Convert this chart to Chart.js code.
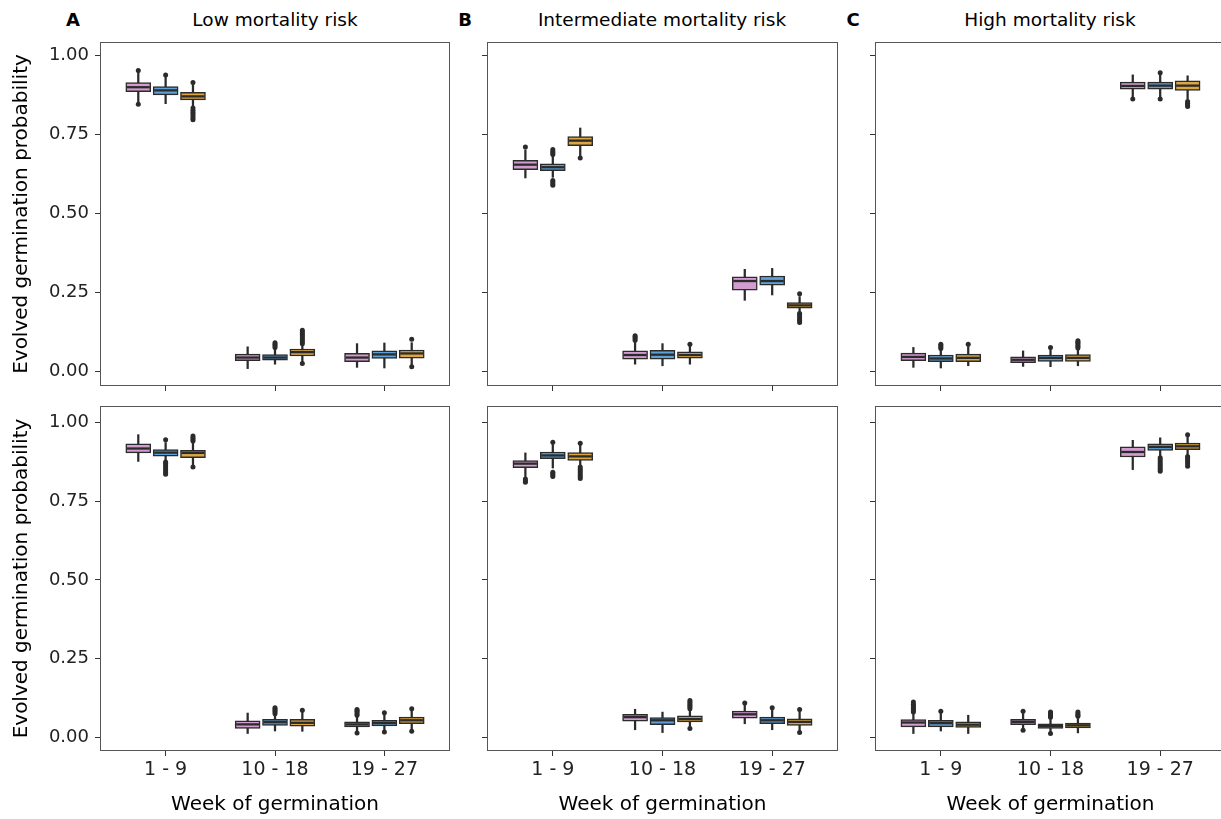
<!DOCTYPE html>
<html><head><meta charset="utf-8">
<script src="https://cdn.jsdelivr.net/npm/chart.js@4.4.1/dist/chart.umd.min.js"></script>
<style>
html,body{margin:0;padding:0;background:#fff;overflow:hidden;width:1221px;height:819px;position:relative}
canvas{position:absolute}
.t{position:absolute;font-family:'DejaVu Sans',sans-serif;color:#000;white-space:nowrap;transform:translate(-50%,-50%);line-height:1}
</style></head><body>
<div class="t" style="left:73px;top:20px;font-weight:bold;font-size:18px">A</div>
<div class="t" style="left:465px;top:20px;font-weight:bold;font-size:18px">B</div>
<div class="t" style="left:853px;top:20px;font-weight:bold;font-size:18px">C</div>
<div class="t" id="tt0" style="left:275px;top:20px;font-size:18.5px"></div>
<div class="t" id="tt1" style="left:662px;top:20px;font-size:18.5px"></div>
<div class="t" id="tt2" style="left:1050px;top:20px;font-size:18.5px"></div>
<canvas id="p1"></canvas><canvas id="p2"></canvas><canvas id="p3"></canvas>
<canvas id="p4"></canvas><canvas id="p5"></canvas><canvas id="p6"></canvas>
<script>
// ---------- data ----------
const categories = ['1 - 9', '10 - 18', '19 - 27'];
const yTickValues = [0, 0.25, 0.5, 0.75, 1];
const panelTitles = ['Low mortality risk', 'Intermediate mortality risk', 'High mortality risk'];
const yTitle = 'Evolved germination probability';
const xTitle = 'Week of germination';

// box statistics per category: [lower whisker, Q1, median, Q3, upper whisker]
// top row
const topLowPink = [[0.853,0.886,0.900,0.915,0.948],[0.010,0.035,0.045,0.056,0.079],[0.014,0.032,0.045,0.058,0.089]];
const topLowBlue = [[0.848,0.876,0.890,0.902,0.932],[0.024,0.037,0.045,0.054,0.072],[0.012,0.042,0.055,0.066,0.091]];
const topLowGold = [[0.840,0.860,0.871,0.884,0.908],[0.030,0.050,0.062,0.072,0.085],[0.022,0.043,0.058,0.069,0.092]];
const topMidPink = [[0.613,0.639,0.655,0.669,0.702],[0.024,0.040,0.053,0.066,0.095],[0.226,0.258,0.287,0.300,0.324]];
const topMidBlue = [[0.615,0.636,0.647,0.658,0.682],[0.019,0.040,0.054,0.068,0.089],[0.243,0.274,0.287,0.303,0.327]];
const topMidGold = [[0.683,0.715,0.731,0.744,0.771],[0.024,0.043,0.053,0.063,0.082],[0.190,0.201,0.210,0.219,0.238]];
const topHighPink = [[0.014,0.035,0.047,0.059,0.077],[0.017,0.029,0.038,0.047,0.066],[0.870,0.894,0.904,0.916,0.939]];
const topHighBlue = [[0.012,0.032,0.042,0.053,0.068],[0.016,0.033,0.044,0.053,0.070],[0.870,0.894,0.905,0.916,0.940]];
const topHighGold = [[0.019,0.032,0.044,0.056,0.080],[0.019,0.033,0.044,0.054,0.070],[0.862,0.890,0.905,0.920,0.936]];
// bottom row
const botLowPink = [[0.876,0.903,0.917,0.932,0.961],[0.012,0.028,0.041,0.052,0.077],[0.020,0.033,0.041,0.049,0.066]];
const botLowBlue = [[0.880,0.893,0.904,0.914,0.936],[0.020,0.038,0.048,0.057,0.071],[0.022,0.036,0.045,0.054,0.073]];
const botLowGold = [[0.865,0.888,0.903,0.911,0.935],[0.019,0.035,0.046,0.057,0.080],[0.024,0.043,0.054,0.064,0.085]];
const botMidPink = [[0.828,0.856,0.869,0.879,0.903],[0.024,0.051,0.064,0.073,0.089],[0.043,0.061,0.073,0.083,0.102]];
const botMidBlue = [[0.855,0.885,0.895,0.906,0.930],[0.015,0.040,0.054,0.063,0.080],[0.024,0.043,0.054,0.064,0.088]];
const botMidGold = [[0.862,0.879,0.892,0.904,0.928],[0.033,0.049,0.058,0.068,0.086],[0.020,0.038,0.049,0.059,0.082]];
const botHighPink = [[0.012,0.033,0.047,0.056,0.076],[0.028,0.040,0.049,0.057,0.076],[0.850,0.890,0.906,0.922,0.943]];
const botHighBlue = [[0.020,0.033,0.045,0.054,0.076],[0.018,0.028,0.036,0.043,0.058],[0.893,0.911,0.922,0.932,0.951]];
const botHighGold = [[0.012,0.031,0.040,0.049,0.070],[0.014,0.030,0.038,0.045,0.060],[0.897,0.913,0.924,0.934,0.955]];

// outliers per category
const topLowPinkOut = [[0.846,0.953],[],[]];
const topLowBlueOut = [[0.939],[0.077,0.082,0.087,0.092],[]];
const topLowGoldOut = [[0.797,0.803,0.809,0.815,0.821,0.827,0.834,0.915],[0.026,0.089,0.095,0.101,0.107,0.113,0.119,0.125,0.131],[0.016,0.103]];
const topMidPinkOut = [[0.711],[0.100,0.105,0.110,0.114],[]];
const topMidBlueOut = [[0.590,0.595,0.600,0.605,0.687,0.692,0.697,0.703],[],[]];
const topMidGoldOut = [[0.676],[0.087],[0.156,0.162,0.168,0.174,0.180,0.184,0.247]];
const topHighPinkOut = [[],[],[0.863]];
const topHighBlueOut = [[0.074,0.078,0.083,0.087],[0.077],[0.863,0.946]];
const topHighGoldOut = [[0.087],[0.075,0.080,0.085,0.090,0.094,0.098],[0.839,0.844,0.849,0.855]];
const botLowPinkOut = [[],[],[0.014,0.070,0.075,0.080,0.084,0.088]];
const botLowBlueOut = [[0.835,0.841,0.847,0.853,0.859,0.865,0.870,0.874,0.945],[0.075,0.080,0.085,0.090,0.094],[0.017,0.078]];
const botLowGoldOut = [[0.858,0.941,0.946,0.951,0.957],[0.086],[0.019,0.091]];
const botMidPinkOut = [[0.810,0.815,0.820],[],[0.109]];
const botMidBlueOut = [[0.828,0.833,0.838,0.842,0.937],[],[0.094]];
const botMidGoldOut = [[0.822,0.828,0.834,0.840,0.846,0.852,0.858,0.934],[0.028,0.091,0.096,0.101,0.106,0.111,0.117],[0.015,0.088]];
const botHighPinkOut = [[0.080,0.085,0.090,0.095,0.100,0.105,0.112],[0.022,0.083],[]];
const botHighBlueOut = [[0.083],[0.012,0.064,0.068,0.072,0.076,0.080],[0.845,0.851,0.857,0.863,0.869,0.875,0.881,0.888]];
const botHighGoldOut = [[],[0.067,0.071,0.075,0.080],[0.861,0.869,0.875,0.881,0.887,0.892,0.961]];

// ---------- styling ----------
const FONT = 'DejaVu Sans';
const groupColors = ['#D39CD0', '#5EA1D8', '#DDA642'];
const dodge = [-0.25, 0, 0.25];
const LINE = '#2b2b2b';

panelTitles.forEach((t, i) => { document.getElementById('tt' + i).textContent = t; });

function groupDatasets(stats, outs, gi) {
  const xs = stats.map((s, ci) => ci + 1 + dodge[gi]);
  return [
    { type: 'bar', data: stats.map((s, ci) => ({ x: xs[ci], y: [s[0], s[4]] })),
      backgroundColor: LINE, borderWidth: 0, barThickness: 1.6, grouped: false, order: 30 + gi },
    { type: 'bar', data: stats.map((s, ci) => ({ x: xs[ci], y: [s[1], s[3]] })),
      backgroundColor: groupColors[gi], borderColor: LINE, borderWidth: 1.5, borderSkipped: false,
      barThickness: 25, grouped: false, order: 20 + gi },
    { type: 'scatter', data: stats.map((s, ci) => ({ x: xs[ci], y: s[2] })),
      pointStyle: 'line', pointRadius: 11.5, pointBorderColor: LINE, pointBorderWidth: 2.3, order: 10 + gi },
    { type: 'scatter', data: outs.flatMap((o, ci) => o.map(v => ({ x: xs[ci], y: v }))),
      pointStyle: 'circle', pointRadius: 2.5, pointBackgroundColor: LINE, pointBorderWidth: 0, order: gi }
  ];
}

const frame = {
  id: 'frame',
  afterDatasetsDraw(chart) {
    const { ctx, chartArea: a } = chart;
    ctx.save();
    ctx.strokeStyle = '#555';
    ctx.lineWidth = 1;
    ctx.strokeRect(Math.round(a.left) + 0.5, Math.round(a.top) + 0.5,
      Math.round(a.right - a.left) - 1, Math.round(a.bottom - a.top) - 1);
    ctx.restore();
  }
};

const panels = [
  { id: 'p1', left: 0,   top: 28,  yW: 100, plotW: 350, plotH: 344, xH: 6,  min: -0.045, max: 1.043, showY: true,  showX: false,
    sets: [[topLowPink, topLowPinkOut], [topLowBlue, topLowBlueOut], [topLowGold, topLowGoldOut]] },
  { id: 'p2', left: 475, top: 28,  yW: 12,  plotW: 351, plotH: 344, xH: 6,  min: -0.045, max: 1.043, showY: false, showX: false,
    sets: [[topMidPink, topMidPinkOut], [topMidBlue, topMidBlueOut], [topMidGold, topMidGoldOut]] },
  { id: 'p3', left: 863, top: 28,  yW: 12,  plotW: 351, plotH: 344, xH: 6,  min: -0.045, max: 1.043, showY: false, showX: false,
    sets: [[topHighPink, topHighPinkOut], [topHighBlue, topHighBlueOut], [topHighGold, topHighGoldOut]] },
  { id: 'p4', left: 0,   top: 392, yW: 100, plotW: 350, plotH: 345, xH: 68, min: -0.0435, max: 1.052, showY: true,  showX: true,
    sets: [[botLowPink, botLowPinkOut], [botLowBlue, botLowBlueOut], [botLowGold, botLowGoldOut]] },
  { id: 'p5', left: 475, top: 392, yW: 12,  plotW: 351, plotH: 345, xH: 68, min: -0.0435, max: 1.052, showY: false, showX: true,
    sets: [[botMidPink, botMidPinkOut], [botMidBlue, botMidBlueOut], [botMidGold, botMidGoldOut]] },
  { id: 'p6', left: 863, top: 392, yW: 12,  plotW: 351, plotH: 345, xH: 68, min: -0.0435, max: 1.052, showY: false, showX: true,
    sets: [[botHighPink, botHighPinkOut], [botHighBlue, botHighBlueOut], [botHighGold, botHighGoldOut]] }
];

const PAD_TOP = 14, PAD_RIGHT = 10;

panels.forEach(p => {
  const cv = document.getElementById(p.id);
  const w = p.yW + p.plotW + PAD_RIGHT;
  const h = PAD_TOP + p.plotH + p.xH;
  cv.width = w; cv.height = h;
  cv.style.left = p.left + 'px'; cv.style.top = p.top + 'px';
  cv.style.width = w + 'px'; cv.style.height = h + 'px';
  const datasets = p.sets.flatMap((s, gi) => groupDatasets(s[0], s[1], gi));
  new Chart(cv, {
    type: 'bar',
    data: { datasets },
    plugins: [frame],
    options: {
      responsive: false, animation: false, events: [],
      layout: { autoPadding: false, padding: { top: PAD_TOP, right: PAD_RIGHT, left: 0, bottom: 0 } },
      plugins: { legend: { display: false }, tooltip: { enabled: false }, title: { display: false } },
      scales: {
        x: {
          type: 'linear', min: 0.4, max: 3.6, offset: false,
          afterBuildTicks: s => { s.ticks = categories.map((c, i) => ({ value: i + 1 })); },
          afterFit: s => { s.height = p.xH; s.paddingLeft = 0; s.paddingRight = 0; },
          grid: { drawOnChartArea: false, drawTicks: true, tickLength: 5, tickColor: '#333', tickWidth: 1, offset: false },
          border: { display: false },
          ticks: { display: p.showX, autoSkip: false, maxRotation: 0, padding: 3,
                   callback: v => categories[Math.round(v) - 1],
                   font: { family: FONT, size: 19 }, color: '#222' },
          title: { display: p.showX, text: xTitle, font: { family: FONT, size: 20 }, color: '#000',
                   padding: { top: 0, bottom: 2 } }
        },
        y: {
          type: 'linear', min: p.min, max: p.max,
          afterBuildTicks: s => { s.ticks = yTickValues.map(v => ({ value: v })); },
          afterFit: s => { s.width = p.yW; s.paddingTop = 0; s.paddingBottom = 0; },
          grid: { drawOnChartArea: false, drawTicks: true, tickLength: 5, tickColor: '#333', tickWidth: 1 },
          border: { display: false },
          ticks: { display: p.showY, padding: 6, callback: v => v.toFixed(2),
                   font: { family: FONT, size: 18 }, color: '#222' },
          title: { display: p.showY, text: yTitle, font: { family: FONT, size: 20 }, color: '#000',
                   padding: { top: 10, bottom: 0 } }
        }
      }
    }
  });
});
</script>
</body></html>
